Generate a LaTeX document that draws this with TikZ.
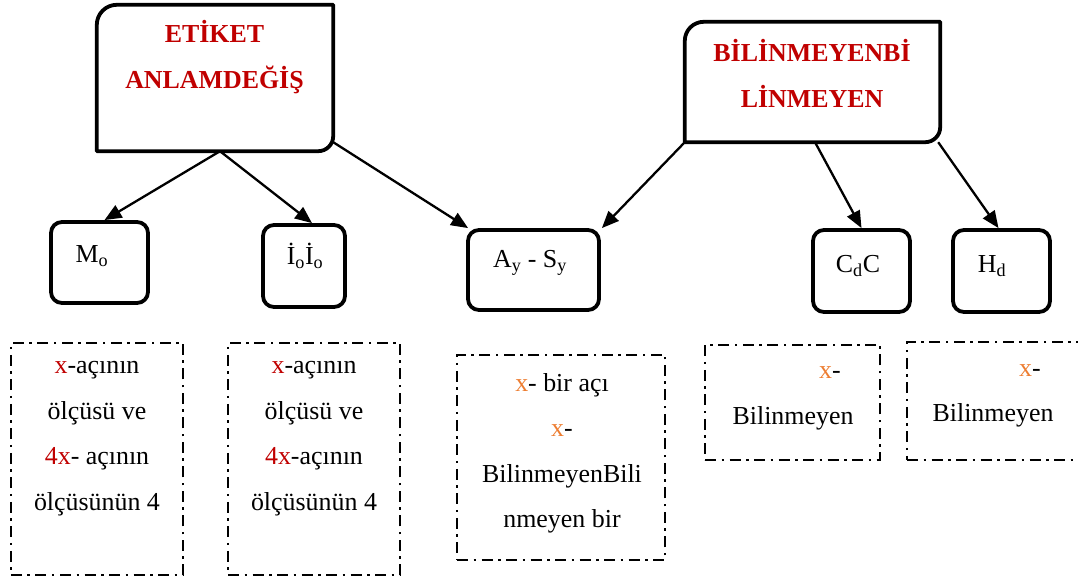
\documentclass[tikz,border=0pt]{standalone}
\usepackage{fontspec}
\setmainfont{Liberation Serif}
\usetikzlibrary{arrows.meta}
\definecolor{titlered}{HTML}{C00000}
\definecolor{xred}{HTML}{C00000}
\definecolor{xorange}{HTML}{ED7D31}

\begin{document}
\begin{tikzpicture}[x=1bp,y=1bp,
  frame/.style={line width=3.8bp, line join=round},
  areabox/.style={inner sep=0, draw=none},
  smallbox/.style={draw, line width=3.8bp, rounded corners=11bp, inner sep=0},
  notebox/.style={draw, line width=2.8bp, dash pattern=on 11bp off 5.5bp on 2.5bp off 5.5bp, inner sep=0},
  link/.style={line width=2.3bp, -{Triangle[length=17bp,width=14bp]}},
  body/.style={font=\fontsize{26}{45.7}\selectfont, align=center, inner sep=0},
  label/.style={font=\fontsize{26}{30}\selectfont, inner sep=0},
  title/.style={font=\fontsize{26}{46.5}\selectfont\bfseries, text=titlered, align=center, inner sep=0}]
\useasboundingbox (0,0) rectangle (1078,579);

% top-level boxes (rounded top-left and bottom-right corners)
\node[areabox, minimum width=236bp, minimum height=146bp] (e1) at (215,501) {};
\node[areabox, minimum width=255bp, minimum height=120bp] (e2) at (812.5,497) {};
\draw[frame] (e1.south west) -- ([yshift=-20bp]e1.north west)
  arc[start angle=180,end angle=90,radius=20bp] -- (e1.north east)
  -- ([yshift=15bp]e1.south east) arc[start angle=0,end angle=-90,radius=15bp] -- cycle;
\draw[frame] (e2.south west) -- ([yshift=-19bp]e2.north west)
  arc[start angle=180,end angle=90,radius=19bp] -- (e2.north east)
  -- ([yshift=15bp]e2.south east) arc[start angle=0,end angle=-90,radius=15bp] -- cycle;
\node[title] (e1t) at (214.5,522) {ETİKET\\ANLAMDEĞİŞ};
\node[title] (e2t) at (812,505.5) {BİLİNMEYENBİ\\LİNMEYEN};

% second-level boxes
\node[smallbox, minimum width=97bp, minimum height=81bp] (mo) at (99.5,316.5) {};
\node[smallbox, minimum width=82bp, minimum height=82bp] (io) at (304,313) {};
\node[smallbox, minimum width=131bp, minimum height=80bp] (ay) at (533.5,309) {};
\node[smallbox, minimum width=97bp, minimum height=82bp] (cd) at (861.5,308) {};
\node[smallbox, minimum width=97bp, minimum height=82bp] (hd) at (1001.5,308) {};
\node[label] (mol) at (92,323) {M\textsubscript{o}};
\node[label] (iol) at (305,323) {İ\textsubscript{o}İ\textsubscript{o}};
\node[label] (ayl) at (530,316) {A\textsubscript{y} - S\textsubscript{y}};
\node[label] (cdl) at (858,313) {C\textsubscript{d}C};
\node[label] (hdl) at (992,313) {H\textsubscript{d}};

% connectors
\draw[link] ([xshift=5bp]e1.south) -- ([xshift=5bp]mo.north);
\draw[link] ([xshift=5bp]e1.south) -- ([xshift=8bp]io.north);
\draw[link] ([yshift=9bp]e1.south east) -- ([xshift=2bp]ay.north west);
\draw[link] (e2.south west) -- ([xshift=1bp]ay.north east);
\draw[link] ([xshift=2.5bp]e2.south) -- (cd.north);
\draw[link] ([xshift=-2bp]e2.south east) -- ([xshift=-3bp]hd.north);

% description boxes
\node[notebox, minimum width=172bp, minimum height=232bp] (d1) at (97,120) {};
\node[notebox, minimum width=172bp, minimum height=232bp] (d2) at (314,120) {};
\node[notebox, minimum width=208bp, minimum height=205bp] (d3) at (561,121.5) {};
\node[notebox, minimum width=175bp, minimum height=115bp] (d4) at (792.5,176.5) {};
\node[notebox, minimum width=178bp, minimum height=118bp] (d5) at (996,178) {};

\node[body] (d1t) at (97,140.5) {\textcolor{xred}{x}-açının\\ölçüsü ve\\\textcolor{xred}{4x}- açının\\ölçüsünün 4};
\node[body] (d2t) at (314,140.5) {\textcolor{xred}{x}-açının\\ölçüsü ve\\\textcolor{xred}{4x}-açının\\ölçüsünün 4};
\node[body] (d3t) at (562,125.5) {\textcolor{xorange}{x}- bir açı\\\textcolor{xorange}{x}-\\BilinmeyenBili\\nmeyen bir};
\node[label] (d4a) at (830,206) {\textcolor{xorange}{x}-};
\node[label] (d4b) at (793,161) {Bilinmeyen};
\node[label] (d5a) at (1030,208) {\textcolor{xorange}{x}-};
\node[label] (d5b) at (993,164) {Bilinmeyen};
\end{tikzpicture}
\end{document}
